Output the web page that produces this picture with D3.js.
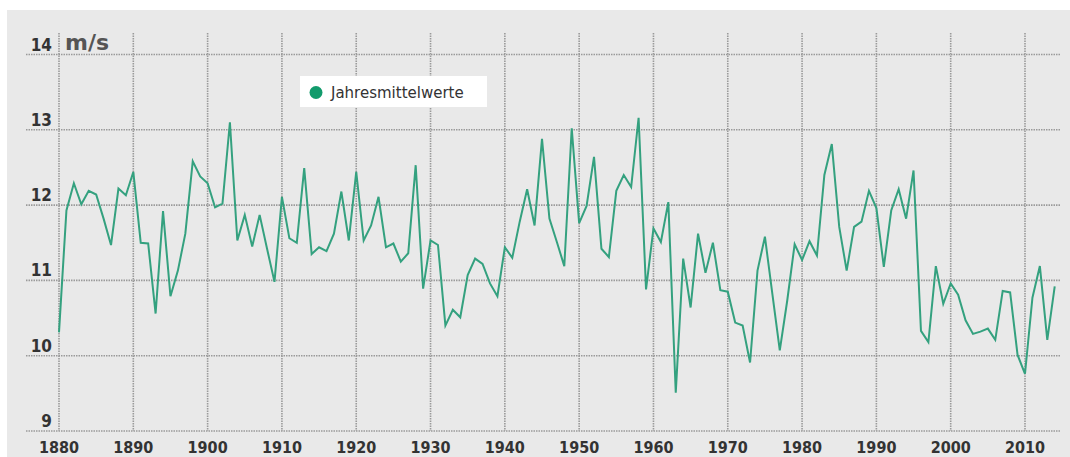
<!DOCTYPE html>
<html>
<head>
<meta charset="utf-8">
<script src="https://cdn.jsdelivr.net/npm/d3@7"></script>
<style>
  body { margin: 0; background: #fff; }
  svg text { font-family: "DejaVu Sans Condensed", "DejaVu Sans", sans-serif; font-stretch: condensed; }
</style>
</head>
<body>
<svg id="chart" width="1070" height="457"></svg>
<script>
// yearly mean wind speed, m/s
var startYear = 1880;
var windSpeed = [
  10.31, 11.93, 12.29, 12.01, 12.19, 12.14, 11.82, 11.47, 12.22, 12.13,
  12.44, 11.50, 11.49, 10.56, 11.92, 10.79, 11.13, 11.62, 12.58, 12.38,
  12.29, 11.97, 12.02, 13.10, 11.53, 11.87, 11.45, 11.87, 11.42, 10.98,
  12.11, 11.56, 11.50, 12.49, 11.35, 11.44, 11.39, 11.62, 12.18, 11.53,
  12.44, 11.53, 11.73, 12.11, 11.44, 11.49, 11.25, 11.36, 12.53, 10.89,
  11.53, 11.47, 10.40, 10.61, 10.51, 11.07, 11.29, 11.22, 10.96, 10.79,
  11.44, 11.30, 11.78, 12.21, 11.73, 12.88, 11.82, 11.51, 11.19, 13.02,
  11.76, 11.99, 12.64, 11.42, 11.31, 12.19, 12.40, 12.24, 13.16, 10.88,
  11.69, 11.51, 12.04, 9.51, 11.29, 10.64, 11.62, 11.10, 11.50, 10.87,
  10.85, 10.44, 10.40, 9.91, 11.13, 11.58, 10.82, 10.07, 10.73, 11.48,
  11.27, 11.52, 11.33, 12.40, 12.81, 11.71, 11.13, 11.71, 11.78, 12.19,
  11.96, 11.18, 11.93, 12.21, 11.82, 12.46, 10.33, 10.18, 11.19, 10.69,
  10.96, 10.81, 10.47, 10.29, 10.32, 10.36, 10.21, 10.86, 10.84, 10.01,
  9.76, 10.77, 11.19, 10.21, 10.92
];
var xTicks = [1880, 1890, 1900, 1910, 1920, 1930, 1940, 1950, 1960, 1970, 1980, 1990, 2000, 2010];
var yTicks = [9, 10, 11, 12, 13, 14];
var unitLabel = "m/s";
var legendLabel = "Jahresmittelwerte";

var data = windSpeed.map(function(v, i) {
  return { year: startYear + i, value: v };
});

var svg = d3.select("#chart");

var x = d3.scaleLinear().domain([1880, 2010]).range([59, 1025]);
var y = d3.scaleLinear().domain([9, 14]).range([431, 54.5]);

var lineColor = "#34a17f";
var gridColor = "#9a9a9a";
var textColor = "#333";

// background panel
svg.append("rect")
  .attr("x", 7).attr("y", 10)
  .attr("width", 1063).attr("height", 447)
  .attr("fill", "#e9e9e9");

// grid
svg.append("g").selectAll("line")
  .data(yTicks)
  .enter()
  .append("line")
  .attr("x1", 26).attr("x2", 1060)
  .attr("y1", function(d) { return y(d); })
  .attr("y2", function(d) { return y(d); })
  .attr("stroke", gridColor)
  .attr("stroke-width", 1.6)
  .attr("stroke-dasharray", "1.5,1");

svg.append("g").selectAll("line")
  .data(xTicks)
  .enter()
  .append("line")
  .attr("x1", function(d) { return x(d); })
  .attr("x2", function(d) { return x(d); })
  .attr("y1", 33).attr("y2", y(9))
  .attr("stroke", gridColor)
  .attr("stroke-width", 1.6)
  .attr("stroke-dasharray", "1.5,1");

// axis labels
svg.append("g").selectAll("text")
  .data(yTicks)
  .enter()
  .append("text")
  .attr("x", 52)
  .attr("y", function(d) { return y(d) - 4; })
  .attr("text-anchor", "end")
  .attr("font-size", 17)
  .attr("font-weight", "bold")
  .attr("fill", textColor)
  .text(function(d) { return d; });

svg.append("g").selectAll("text")
  .data(xTicks)
  .enter()
  .append("text")
  .attr("x", function(d) { return x(d); })
  .attr("y", 453)
  .attr("text-anchor", "middle")
  .attr("font-size", 16)
  .attr("font-weight", "bold")
  .attr("fill", textColor)
  .text(function(d) { return d; });

svg.append("text")
  .attr("x", 65).attr("y", 50)
  .style("font-family", "'DejaVu Sans', sans-serif")
  .style("font-stretch", "normal")
  .attr("font-size", 22)
  .attr("font-weight", "bold")
  .attr("fill", "#555")
  .text(unitLabel);

// the series
var line = d3.line()
  .x(function(d) { return x(d.year); })
  .y(function(d) { return y(d.value); });

svg.append("path")
  .datum(data)
  .attr("d", line)
  .attr("fill", "none")
  .attr("stroke", lineColor)
  .attr("stroke-width", 2)
  .attr("stroke-linejoin", "miter");

// legend
var legend = svg.append("g");
legend.append("rect")
  .attr("x", 300).attr("y", 76)
  .attr("width", 187).attr("height", 31)
  .attr("fill", "#fff");
legend.append("circle")
  .attr("cx", 316).attr("cy", 92.5)
  .attr("r", 6.5)
  .attr("fill", "#129b6c");
legend.append("text")
  .attr("x", 331).attr("y", 98)
  .style("font-family", "'DejaVu Sans', sans-serif")
  .style("font-stretch", "normal")
  .attr("font-size", 15)
  .attr("fill", textColor)
  .text(legendLabel);
</script>
</body>
</html>
